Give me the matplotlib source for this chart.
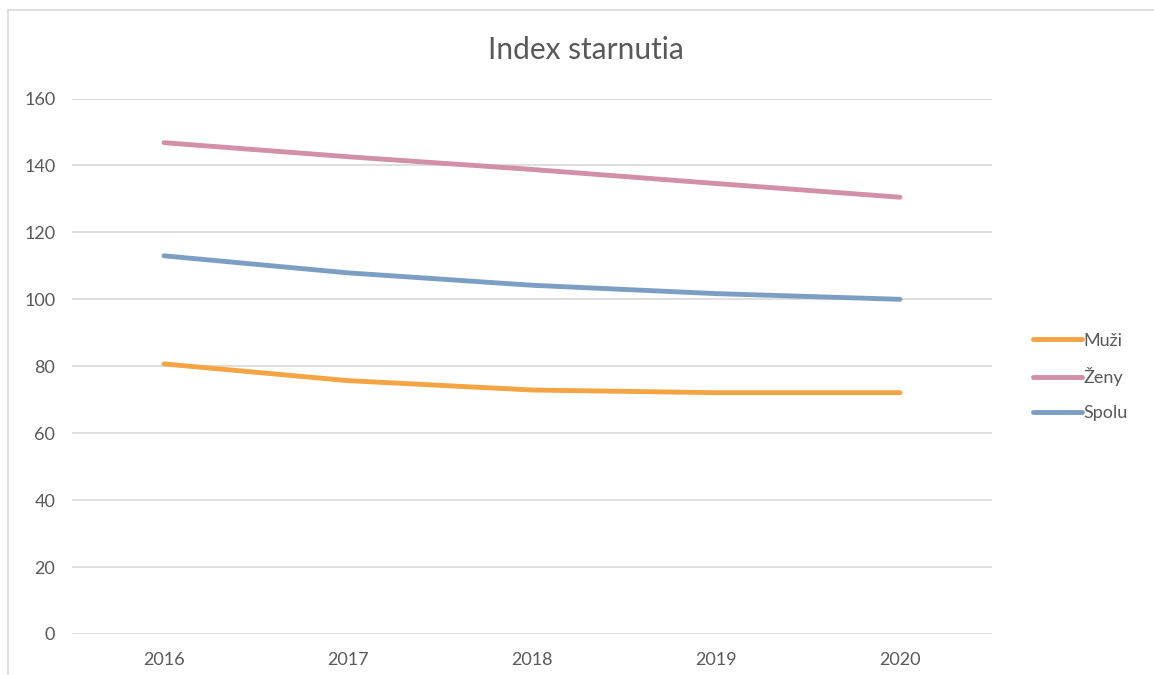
import matplotlib
matplotlib.use("Agg")
import matplotlib.pyplot as plt
from matplotlib.lines import Line2D

years = ["2016", "2017", "2018", "2019", "2020"]
muzi = [80.7, 75.7, 72.9, 72.1, 72.1]
zeny = [146.8, 142.6, 138.8, 134.6, 130.5]
spolu = [113.0, 107.9, 104.2, 101.7, 100.0]
yticks = [0, 20, 40, 60, 80, 100, 120, 140, 160]

plt.rcParams['font.family'] = ['Lato', 'DejaVu Sans']

W, H = 1154, 675
fig = plt.figure(figsize=(W/100, H/100), dpi=100)
ax = fig.add_axes([72/W, 1-634/H, (992-72)/W, (634-98.5)/H])

x = range(len(years))
ax.plot(x, muzi, color='#F4A443', lw=3.5, solid_capstyle='round', label='Muži')
ax.plot(x, zeny, color='#D18FA8', lw=3.5, solid_capstyle='round', label='Ženy')
ax.plot(x, spolu, color='#7D9EC4', lw=3.5, solid_capstyle='round', label='Spolu')

ax.set_xlim(-0.5, len(years)-0.5)
ax.set_ylim(0, 160)
ax.set_yticks(yticks)
ax.set_xticks(list(x))
ax.set_xticklabels(years)
ax.grid(axis='y', color='#D9D9D9', lw=1.2)
ax.set_axisbelow(True)
for s in ax.spines.values():
    s.set_visible(False)
ax.tick_params(length=0, labelsize=13, colors='#595959')
ax.tick_params(axis='x', pad=13)
ax.tick_params(axis='y', pad=12)

fig.text(586/W, 1-50/H, 'Index starnutia', ha='center', va='center', fontsize=21.5, color='#595959')

leg = fig.legend(handles=ax.get_lines(), loc='center left', bbox_to_anchor=(1017/W, 1-377/H),
                 frameon=False, fontsize=13, handlelength=2.7, handletextpad=0.1,
                 labelspacing=1.05, labelcolor='#595959')

# outer chart border
fig.add_artist(Line2D([8/W, 8/W], [0, 1-10/H], color='#D9D9D9', lw=1.2, transform=fig.transFigure))
fig.add_artist(Line2D([8/W, 1], [1-10/H, 1-10/H], color='#D9D9D9', lw=1.2, transform=fig.transFigure))

fig.savefig('out.png', dpi=100, facecolor='white')
